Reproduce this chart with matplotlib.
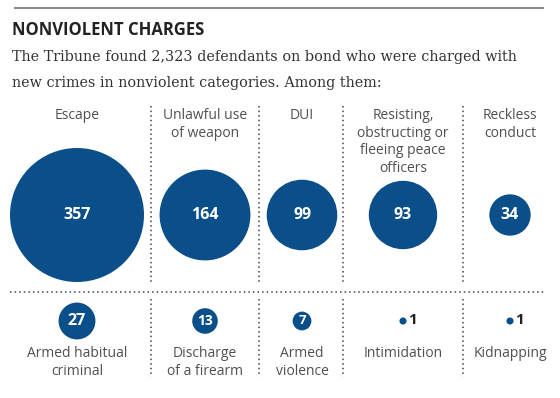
import numpy as np
import matplotlib.pyplot as plt
from matplotlib.patches import Circle

# data
top_labels = ["Escape", "Unlawful use\nof weapon", "DUI",
              "Resisting,\nobstructing or\nfleeing peace\nofficers",
              "Reckless\nconduct"]
top_values = [357, 164, 99, 93, 34]
bottom_labels = ["Armed habitual\ncriminal", "Discharge\nof a firearm",
                 "Armed\nviolence", "Intimidation", "Kidnapping"]
bottom_values = [27, 13, 7, 1, 1]

title = "NONVIOLENT CHARGES"
subtitle = ["The Tribune found 2,323 defendants on bond who were charged with",
            "new crimes in nonviolent categories. Among them:"]

BLUE = '#0b4f8a'
GRAY = '#505050'
SANS = ['Open Sans', 'DejaVu Sans']

fig = plt.figure(figsize=(5.6, 3.98), dpi=100)
ax = fig.add_axes([0, 0, 1, 1])
ax.set_xlim(0, 560)
ax.set_ylim(398, 0)
ax.set_aspect('equal')
ax.axis('off')

# header
ax.plot([14, 544], [8, 8], color='#8a8a8a', lw=1.5, solid_capstyle='butt')
ax.text(12, 30, title, fontsize=12, fontweight='bold', family=SANS,
        color='#222222', va='center', ha='left')
for i, line in enumerate(subtitle):
    ax.text(12, 57 + i * 26, line, fontsize=10.4, family='DejaVu Serif',
            color='#333333', va='center', ha='left')

col_x = [77, 205, 302, 403, 510]
dividers = [151, 259, 343, 463]
k = 67 / np.sqrt(max(top_values))  # area scaling
dot = (0, (1, 2))

for x in dividers:
    ax.plot([x, x], [106, 284], color='#444444', lw=1.1, ls=dot)
    ax.plot([x, x], [299, 377], color='#444444', lw=1.1, ls=dot)
ax.plot([10, 546], [292, 292], color='#444444', lw=1.1, ls=dot)


def num_size(v):
    if v >= 20:
        return 11.5
    if v >= 10:
        return 10
    return 9.5


# top row
for x, lab, v in zip(col_x, top_labels, top_values):
    ax.text(x, 108, lab, fontsize=10, family=SANS, color=GRAY,
            ha='center', va='top', linespacing=1.25)
    ax.add_patch(Circle((x, 215), k * np.sqrt(v), color=BLUE, lw=0))
    ax.text(x, 215, str(v), fontsize=num_size(v), fontweight='bold',
            family=SANS, color='white', ha='center', va='center')

# bottom row
for x, lab, v in zip(col_x, bottom_labels, bottom_values):
    r = k * np.sqrt(v)
    ax.add_patch(Circle((x, 321), r, color=BLUE, lw=0))
    if v > 1:
        ax.text(x, 321, str(v), fontsize=num_size(v), fontweight='bold',
                family=SANS, color='white', ha='center', va='center')
    else:
        ax.text(x + r + 2, 320, str(v), fontsize=11, fontweight='bold',
                family=SANS, color='#222222', ha='left', va='center')
    ax.text(x, 346, lab, fontsize=10, family=SANS, color=GRAY,
            ha='center', va='top', linespacing=1.25)

fig.savefig('out.png', dpi=100, facecolor='white')
